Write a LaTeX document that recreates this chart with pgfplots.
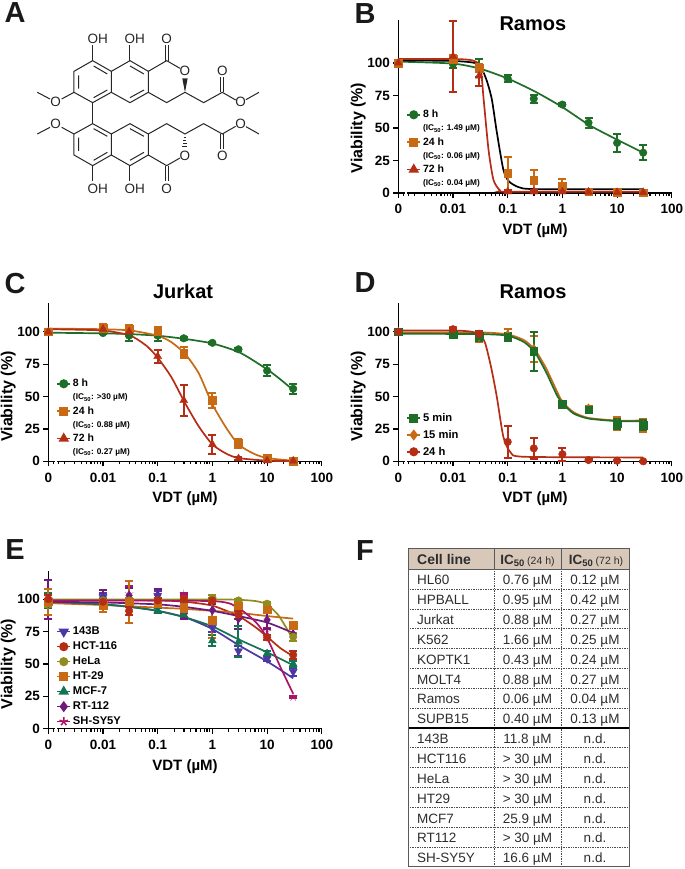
\documentclass[border=0pt]{standalone}
\usepackage{fontspec}
\setmainfont{Liberation Sans}
\usepackage{pgfplots}
\pgfplotsset{compat=1.18}
\usetikzlibrary{plotmarks}

\definecolor{cgreen}{RGB}{30,110,40}
\definecolor{corange}{RGB}{200,105,20}
\definecolor{cred}{RGB}{180,45,20}
\definecolor{cblue}{RGB}{75,55,165}
\definecolor{colive}{RGB}{145,140,30}
\definecolor{cteal}{RGB}{20,115,85}
\definecolor{cviolet}{RGB}{110,25,125}
\definecolor{cmagenta}{RGB}{170,20,100}
\definecolor{headfill}{RGB}{216,200,185}
\definecolor{txt}{RGB}{45,45,45}

\newcommand{\ICn}[1]{{\fontsize{8.3bp}{9bp}\selectfont\bfseries (IC\textsubscript{50}: #1 µM)}}

\pgfplotsset{
  viab/.style={
    scale only axis, anchor=south west,
    width=273.5bp,
    xmin=-3, xmax=2,
    ymin=0,
    axis x line*=bottom, axis y line*=left,
    axis line style={line width=1.3bp, black},
    clip=false,
    xtick={-3,-2,-1,0,1,2},
    xticklabels={0,0.01,0.1,1,10,100},
    minor xtick={-2.9,-2.82,-2.7,-2.52,-2.4,-2.3,-2.22,-2.15,-2.1,-2.05,
      -1.7,-1.52,-1.4,-1.3,-1.22,-1.15,-1.1,-1.05,
      -0.7,-0.52,-0.4,-0.3,-0.22,-0.15,-0.1,-0.05,
      0.3,0.48,0.6,0.7,0.78,0.85,0.9,0.95,
      1.3,1.48,1.6,1.7,1.78,1.85,1.9,1.95},
    ytick={0,25,50,75,100},
    tick align=outside,
    tick style={line width=1.2bp, black},
    major tick length=5bp,
    minor tick length=3bp,
    xtick pos=bottom, ytick pos=left,
    tick label style={font=\fontsize{13.5bp}{14bp}\selectfont\bfseries, /pgf/number format/assume math mode=true},
    xticklabel style={yshift=-3bp},
    xlabel={VDT (µM)},
    ylabel={Viability (\%)},
    every axis x label/.style={at={(axis description cs:0.5,0)}, anchor=north, yshift=-27bp,
      font=\fontsize{15bp}{16bp}\selectfont\bfseries},
    every axis y label/.style={at={(axis cs:-3,50)}, xshift=-29bp, rotate=90, anchor=south,
      font=\fontsize{16bp}{17bp}\selectfont\bfseries},
    every axis title/.style={at={(axis description cs:0.5,1)}, anchor=south, xshift=-2bp, yshift=1bp,
      font=\fontsize{20bp}{21bp}\selectfont\bfseries},
    extra description/.code={
      \draw[white, line width=2bp] (axis cs:-2.88,0) -- (axis cs:-2.84,0);
    },
    legend cell align=left,
    legend style={draw=none, fill=none, inner sep=0pt, outer sep=0pt,
      font=\fontsize{10.5bp}{11bp}\selectfont\bfseries, anchor=north west, row sep=1.4bp,
      /tikz/column 2/.style={column sep=3bp}},
    legend image code/.code={
      \draw[##1, only marks=false] (0bp,0bp) -- (13bp,0bp);
      \path[##1] plot[only marks] coordinates {(6.5bp,0bp)};
    },
  },
  curve/.style={#1, line width=1.7bp, no marks, smooth, tension=0.4, forget plot},
  pts/.style={#1, only marks, mark options={fill=#1, draw=#1, solid}, forget plot,
    error bars/y dir=both, error bars/y explicit,
    error bars/error bar style={#1, line width=2bp},
    error bars/error mark options={rotate=90, #1, line width=2bp, mark size=4bp}},
  leg/.style={#1, line width=1.5bp, mark options={fill=#1, draw=#1, solid}},
  mO/.style={mark=*, mark size=3.8bp},
  mS/.style={mark=square*, mark size=3.8bp},
  mT/.style={mark=triangle*, mark size=4.6bp},
  mV/.style={mark=triangle*, mark size=4.6bp, /tikz/every mark/.append style={rotate=180}},
  mD/.style={mark=diamond*, mark size=4.4bp},
  mK/.style={mark=star, mark size=4.4bp},
}

\begin{document}
\begin{tikzpicture}[x=1bp, y=1bp]
\path[use as bounding box] (0,0) rectangle (685,-869);

% panel letters
\foreach \l/\px/\py in {A/15/13, B/365/14, C/15/284, D/365/283, E/15/550, F/365/551}
  \node[font=\fontsize{29bp}{29bp}\selectfont\bfseries, text=black!90, inner sep=0pt] at (\px,-\py) {\l};

% panel A, structure
\begin{scope}[line width=1bp, black!85, x=0.3333bp, y=-0.3333bp]
  \foreach \m in {0,1}{
    \begin{scope}[shift={(0,\m*679)}, yscale={1-2*\m}]
      \draw (278,182)--(334,214)--(334,277)--(278,308)--(222,277)--(222,214)--cycle;
      \draw (334,214)--(390,182)--(445,214)--(445,277)--(390,308)--(334,277);
      \draw (236,226)--(236,266) (281,198)--(322,222) (322,270)--(281,293);
      \draw (390,198)--(432,222) (432,270)--(390,293);
      \draw (445,214)--(500,182)--(540,205);
      \draw (445,277)--(500,308)--(555,277)--(611,308)--(667,277)--(707,300);
      \draw (738,299)--(777,277);
      \draw (278,182)--(278,135) (390,182)--(390,135);
      \draw (496,182)--(496,135) (505,182)--(505,135);
      \draw (663,277)--(663,232) (672,277)--(672,232);
      \draw (222,277)--(185,297) (150,297)--(112,277);
    \end{scope}
  }
  \draw (278,308)--(278,371);
  \fill (555,277)--(547,235)--(563,235)--cycle;
  \foreach \d in {0,1,2,3}
    \draw[line width=0.8bp] ({555-3-\d*1.5},{402+10+\d*9})--({555+3+\d*1.5},{402+10+\d*9});
  \foreach \t/\px/\py in {OH/293/117, OH/404/117, O/500/117, O/555/212, O/667/213, O/722/307, O/167/307,
                          OH/293/566, OH/404/566, O/500/566, O/555/467, O/667/468, O/722/373, O/167/373}
    \node[font=\fontsize{13.5bp}{14bp}\selectfont, inner sep=0pt, text=black!85] at (\px,\py) {\t};
\end{scope}

% panel B
\begin{axis}[viab, at={(398.3bp,-193bp)}, height=173bp, ymax=133,
  legend style={at={(axis description cs:0.03,0.49)}}]
  \addlegendimage{leg=cgreen, mO}\addlegendentry{8 h}
  \addlegendimage{empty legend}\addlegendentry{\ICn{1.49}}
  \addlegendimage{leg=corange, mS}\addlegendentry{24 h}
  \addlegendimage{empty legend}\addlegendentry{\ICn{0.06}}
  \addlegendimage{leg=cred, mT}\addlegendentry{72 h}
  \addlegendimage{empty legend}\addlegendentry{\ICn{0.04}}
  \addplot[curve=cgreen] coordinates {(-3,101)(-2,99.5)(-1.5,95.5)(-1,88)(-0.5,78)(0,66)(0.5,52)(1,41)(1.477,31)};
  \addplot[curve=black] coordinates {(-3,102)(-2,101.5)(-1.6,100)(-1.48,96)(-1.38,86)(-1.29,72)(-1.2,47)(-1.08,18)(-0.98,9)(-0.8,4.5)(-0.5,3)(1.477,3)};
  \addplot[curve=cred] coordinates {(-3,103)(-2,103)(-1.65,102)(-1.5,97)(-1.44,72)(-1.35,33)(-1.26,10)(-1.14,2)(-1,1)(1.477,1)};
  \addplot[pts=cgreen, mO] coordinates {(-3,100)+-(0,1)(-2,99)+-(0,3)(-1.523,96)+-(0,7)(-1,88)+-(0,3)(-0.523,72.5)+-(0,3)(0,68)+-(0,1)(0.477,54)+-(0,4)(1,38.5)+-(0,7)(1.477,31)+-(0,6)};
  \addplot[pts=corange, mS] coordinates {(-3,100)+-(0,1)(-2,103)+-(0,3)(-1.523,96)+-(0,3)(-1,15)+-(0,12.5)(-0.523,10)+-(0,8)(0,5.5)+-(0,5)(0.477,1)+-(0,1)(1,0.5)+-(0,0.5)(1.477,0.3)+-(0,0.3)};
  \addplot[pts=cred, mT] coordinates {(-3,100)+-(0,1)(-2,105)+-(0,27)(-1.523,90)+-(0,8)(-1,1)+-(0,1)(-0.523,1)+-(0,1)(0,1)+-(0,1)(0.477,0.8)+-(0,0.5)(1,0.5)+-(0,0.5)(1.477,0.5)+-(0,0.5)};
  \node[font=\fontsize{20bp}{21bp}\selectfont\bfseries] at (axis cs:-0.54,130) {Ramos};
\end{axis}

% panel C
\begin{axis}[viab, at={(48.3bp,-461.3bp)}, height=158bp, ymax=122, title={Jurkat},
  legend style={at={(axis description cs:0.03,0.532)}}]
  \addlegendimage{leg=cgreen, mO}\addlegendentry{8 h}
  \addlegendimage{empty legend}\addlegendentry{\ICn{>30}}
  \addlegendimage{leg=corange, mS}\addlegendentry{24 h}
  \addlegendimage{empty legend}\addlegendentry{\ICn{0.88}}
  \addlegendimage{leg=cred, mT}\addlegendentry{72 h}
  \addlegendimage{empty legend}\addlegendentry{\ICn{0.27}}
  \addplot[curve=cgreen] coordinates {(-3,99.3)(-2,98.8)(-1.5,98.2)(-1,97)(-0.5,94.5)(0,91)(0.5,84)(1,71)(1.25,63)(1.477,55)};
  \addplot[curve=corange] coordinates {(-3,102.5)(-2,102)(-1.5,101)(-1,97)(-0.75,92)(-0.5,83)(-0.25,68)(0,44)(0.25,26)(0.477,13)(0.75,6)(1,2.5)(1.477,0.5)};
  \addplot[curve=cred] coordinates {(-3,102)(-2,101)(-1.5,97)(-1.2,89)(-1,80)(-0.75,65)(-0.5,45)(-0.25,27)(0,13)(0.25,6)(0.477,2.5)(1,0.5)(1.477,0.1)};
  \addplot[pts=cgreen, mO] coordinates {(-3,100)+-(0,1)(-2,99)+-(0,1)(-1.523,97)+-(0,4)(-1,97)+-(0,4)(-0.523,95)+-(0,1)(0,91.5)+-(0,1)(0.477,86.5)+-(0,1)(1,70)+-(0,4)(1.477,56)+-(0,4)};
  \addplot[pts=corange, mS] coordinates {(-3,100)+-(0,1)(-2,103)+-(0,3)(-1.523,102)+-(0,3)(-1,100)+-(0,4)(-0.523,84)+-(0,4.5)(0,47)+-(0,6)(0.477,14)+-(0,3.5)(1,2.5)+-(0,1)(1.477,0.3)+-(0,0.3)};
  \addplot[pts=cred, mT] coordinates {(-3,100)+-(0,1)(-2,102)+-(0,1.5)(-1.523,100)+-(0,3)(-1,81)+-(0,5)(-0.523,47)+-(0,12)(0,13)+-(0,7)(0.477,2)+-(0,1)(1,0.5)+-(0,0.5)(1.477,0.3)+-(0,0.3)};
\end{axis}

% panel D
\begin{axis}[viab, at={(398.3bp,-461.3bp)}, height=158bp, ymax=122, title={Ramos},
  legend style={at={(axis description cs:0.03,0.316)}, row sep=3.2bp, font=\fontsize{11.2bp}{12bp}\selectfont\bfseries}]
  \addlegendimage{leg=cgreen, mS}\addlegendentry{5 min}
  \addlegendimage{leg=corange, mD}\addlegendentry{15 min}
  \addlegendimage{leg=cred, mO}\addlegendentry{24 h}
  \addplot[curve=corange] coordinates {(-3,99.5)(-1.5,99.5)(-1,98)(-0.7,93.5)(-0.5,86)(-0.3,72)(-0.1,54)(0,46)(0.2,38)(0.477,33.5)(1,31.5)(1.477,31.5)};
  \addplot[curve=cgreen] coordinates {(-3,98.5)(-1.5,98.2)(-1,97)(-0.7,92)(-0.5,84)(-0.3,69)(-0.1,51)(0,45)(0.2,37)(0.477,33)(1,31)(1.477,31)};
  \addplot[curve=cred] coordinates {(-3,101)(-2,101)(-1.65,100)(-1.5,97)(-1.41,91)(-1.3,72)(-1.2,50)(-1.08,19)(-0.95,7)(-0.7,3.5)(1.477,3)};
  \addplot[pts=corange, mD] coordinates {(-3,100)+-(0,1)(-2,100)+-(0,4)(-1.523,96)+-(0,4)(-1,98)+-(0,4)(-0.523,87)+-(0,10)(0,44)+-(0,1)(0.477,41)+-(0,2)(1,29)+-(0,5)(1.477,28)+-(0,5)};
  \addplot[pts=cgreen, mS] coordinates {(-3,100)+-(0,1)(-2,98)+-(0,2)(-1.523,97)+-(0,4)(-1,96)+-(0,3)(-0.523,85)+-(0,15)(0,44)+-(0,1.5)(0.477,40)+-(0,1.5)(1,29)+-(0,4)(1.477,28)+-(0,4)};
  \addplot[pts=cred, mO] coordinates {(-3,100)+-(0,1)(-2,102)+-(0,1)(-1.523,98.5)+-(0,1)(-1,15)+-(0,12.5)(-0.523,10)+-(0,8)(0,5.5)+-(0,5)(0.477,1)+-(0,0.5)(1,0.5)+-(0,0.5)(1.477,0)+-(0,0.3)};
\end{axis}

% panel E
\begin{axis}[viab, at={(48.3bp,-728.7bp)}, height=158bp, ymax=122,
  legend style={at={(axis description cs:0.03,0.656)}, row sep=1.7bp, font=\fontsize{11.2bp}{12bp}\selectfont\bfseries}]
  \addlegendimage{leg=cblue, mV}\addlegendentry{143B}
  \addlegendimage{leg=cred, mO}\addlegendentry{HCT-116}
  \addlegendimage{leg=colive, mO}\addlegendentry{HeLa}
  \addlegendimage{leg=corange, mS}\addlegendentry{HT-29}
  \addlegendimage{leg=cteal, mT}\addlegendentry{MCF-7}
  \addlegendimage{leg=cviolet, mD}\addlegendentry{RT-112}
  \addlegendimage{leg=cmagenta, mK}\addlegendentry{SH-SY5Y}
  \addplot[curve=cblue] coordinates {(-3,97.5)(-2,96)(-1.5,94)(-1,91)(-0.5,86)(0,77)(0.5,64)(1,52)(1.477,39)};
  \addplot[curve=cred] coordinates {(-3,99.5)(-1,99)(-0.5,98)(0,95)(0.477,87)(0.8,78)(1,71)(1.25,62)(1.477,56)};
  \addplot[curve=colive] coordinates {(-3,99.8)(0,99.8)(0.5,99.5)(0.8,98.5)(1,96)(1.2,88)(1.35,78)(1.477,69)};
  \addplot[curve=corange] coordinates {(-3,97)(-2,95.5)(-1.5,94.5)(-1,93.5)(-0.5,92.5)(0,91)(0.477,89.5)(1,87)(1.477,85)};
  \addplot[curve=cteal] coordinates {(-3,98)(-2,96)(-1.5,94)(-1,91)(-0.5,86)(0,79)(0.477,69)(1,59)(1.477,49)};
  \addplot[curve=cviolet] coordinates {(-3,98)(-2,97.5)(-1,96)(-0.5,94)(0,91)(0.477,87)(1,82)(1.477,74)};
  \addplot[curve=cmagenta] coordinates {(-3,99)(0,98.5)(0.477,93)(0.8,82)(1,70)(1.25,47)(1.477,27)};
  \addplot[pts=cmagenta, mK] coordinates {(-3,100)+-(0,3)(-2,102)+-(0,3)(-1.523,104)+-(0,6)(-1,103)+-(0,4)(-0.523,104)+-(0,1)(0,100)+-(0,3)(0.477,97)+-(0,3)(1,75)+-(0,3)(1.477,24.5)+-(0,0.5)};
  \addplot[pts=cviolet, mD] coordinates {(-3,100)+-(0,15)(-2,102)+-(0,5)(-1.523,103)+-(0,6)(-1,103)+-(0,5)(-0.523,88)+-(0,3)(0,91.5)+-(0,5)(0.477,85)+-(0,8)(1,84)+-(0,7)(1.477,73)+-(0,5)};
  \addplot[pts=cblue, mV] coordinates {(-3,97)+-(0,3)(-2,102)+-(0,3)(-1.523,98)+-(0,3)(-1,103)+-(0,3)(-0.523,92)+-(0,3)(0,78)+-(0,3)(0.477,60)+-(0,4)(1,54)+-(0,2)(1.477,44)+-(0,3)};
  \addplot[pts=cteal, mT] coordinates {(-3,99)+-(0,6)(-2,98)+-(0,3)(-1.523,98)+-(0,3)(-1,91)+-(0,2)(-0.523,88)+-(0,2)(0,68)+-(0,4.5)(0.477,67)+-(0,12)(1,58)+-(0,2)(1.477,50)+-(0,2)};
  \addplot[pts=colive, mO] coordinates {(-3,97)+-(0,3)(-2,99)+-(0,2)(-1.523,99)+-(0,2)(-1,99)+-(0,2)(-0.523,100)+-(0,2)(0,101)+-(0,2)(0.477,99)+-(0,1)(1,96.5)+-(0,1)(1.477,71)+-(0,3)};
  \addplot[pts=corange, mS] coordinates {(-3,98)+-(0,10)(-2,95)+-(0,5)(-1.523,98)+-(0,16)(-1,97)+-(0,3)(-0.523,93)+-(0,3)(0,84)+-(0,14)(0.477,95)+-(0,3)(1,92)+-(0,3)(1.477,80)+-(0,2)};
  \addplot[pts=cred, mO] coordinates {(-3,100)+-(0,3)(-2,98)+-(0,2)(-1.523,91)+-(0,3)(-1,99)+-(0,2)(-0.523,100)+-(0,2)(0,99)+-(0,2)(0.477,88)+-(0,3)(1,70.5)+-(0,2)(1.477,57)+-(0,3)};
\end{axis}

% panel F, table
\def\tl{408.3}\def\tm{494.3}\def\tn{561.3}\def\tr{629.3}
\fill[headfill] (\tl,-548.3) rectangle (\tr,-569.3);
\foreach \k in {1,...,14}{
  \ifnum\k=8\else
    \draw[black!70, line width=0.7bp, densely dotted] (\tl,{-(569.3+19.83*\k)}) -- (\tr,{-(569.3+19.83*\k)});
  \fi
}
\draw[black!70, line width=0.7bp, densely dotted] (\tm,-569.3) -- (\tm,-866.7) (\tn,-569.3) -- (\tn,-866.7);
\draw[black!65, line width=1bp] (\tm,-548.3) -- (\tm,-569.3) (\tn,-548.3) -- (\tn,-569.3) (\tl,-569.3) -- (\tr,-569.3);
\draw[black, line width=1.4bp] (\tl,-728) -- (\tr,-728);
\draw[black!65, line width=1.2bp] (\tl,-548.3) rectangle (\tr,-866.7);
\node[anchor=base west, inner sep=0pt, text=txt, font=\fontsize{14bp}{14bp}\selectfont\bfseries] at (417,-564) {Cell line};
\foreach \x/\h in {527.5/24, 596/72}
  \node[anchor=base, inner sep=0pt, text=txt] at (\x,-564) {\fontsize{13.5bp}{14bp}\selectfont\bfseries IC\textsubscript{50}\,\fontsize{10.5bp}{11bp}\selectfont\mdseries (\h{} h)};
\foreach \k/\a/\b/\c in {0/HL60/0.76 µM/0.12 µM, 1/HPBALL/0.95 µM/0.42 µM, 2/Jurkat/0.88 µM/0.27 µM,
    3/K562/1.66 µM/0.25 µM, 4/KOPTK1/0.43 µM/0.24 µM, 5/MOLT4/0.88 µM/0.27 µM,
    6/Ramos/0.06 µM/0.04 µM, 7/SUPB15/0.40 µM/0.13 µM, 8/143B/11.8 µM/n.d., 9/HCT116/> 30 µM/n.d.,
    10/HeLa/> 30 µM/n.d., 11/HT29/> 30 µM/n.d., 12/MCF7/25.9 µM/n.d., 13/RT112/> 30 µM/n.d., 14/SH-SY5Y/16.6 µM/n.d.}{
  \begin{scope}[every node/.style={inner sep=0pt, text=txt, font=\fontsize{13.5bp}{14bp}\selectfont}]
    \node[anchor=base west] at (417,{-(569.3+19.85*\k+15.5)}) {\a};
    \node[anchor=base] at (527.5,{-(569.3+19.85*\k+15.5)}) {\b};
    \node[anchor=base] at (595,{-(569.3+19.85*\k+15.5)}) {\c};
  \end{scope}
}
\end{tikzpicture}
\end{document}
